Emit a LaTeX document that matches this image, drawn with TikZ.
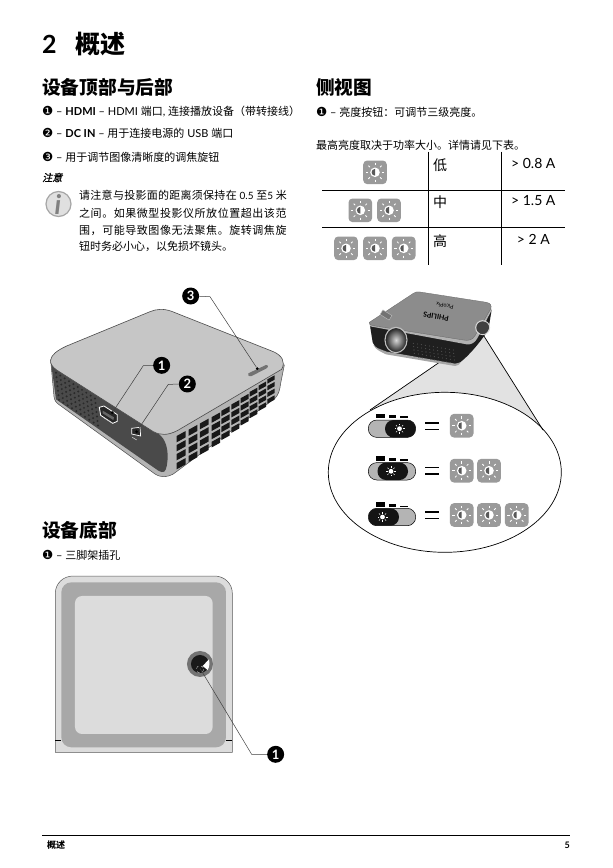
\documentclass[tikz,border=0pt]{standalone}
\usepackage{fontspec}
\setmainfont{Lato}
\newfontfamily\cjk{Noto Sans CJK SC}
\newfontfamily\cjkj[LetterSpace=5]{Noto Sans CJK SC}
\newfontfamily\cjkq[LetterSpace=2.5]{Noto Sans CJK SC}
\newfontfamily\cjkit[FakeSlant=0.25,FakeBold=1.2]{Noto Sans CJK SC}
\newfontfamily\dingb{DejaVu Sans}
\newcommand{\C}[1]{{\cjk #1}}
\newcommand{\fs}[1]{\fontsize{#1}{#1}\selectfont}
\newcommand{\NB}[1]{{\dingb\fs{12.5}#1}}
\definecolor{iconG}{HTML}{9A9A9A}
\definecolor{bodyG}{HTML}{C6C6C6}
\definecolor{sideG}{HTML}{B4B4B4}
\definecolor{darkF}{HTML}{4A4A4A}
\definecolor{ventK}{HTML}{2A2A2A}
\definecolor{plateL}{HTML}{DCDCDC}
\definecolor{plateM}{HTML}{A8A8A8}
\definecolor{wedgeG}{HTML}{E2E2E2}
\definecolor{topG}{HTML}{8C8C8C}
\tikzset{
  txt/.style={anchor=west,inner sep=0pt,font=\fs{11}},
  headtxt/.style={anchor=west,inner sep=0pt,font=\fs{18.7}\bfseries},
  badge/.style={circle,fill=black,text=white,inner sep=0pt,minimum size=17pt,font=\fs{13}\bfseries},
  leader/.style={draw=black!75,line width=0.5pt},
  tip/.style={circle,fill=black,inner sep=0pt,minimum size=3pt},
  tbl/.style={draw=black,line width=0.8pt},
  celltxt/.style={inner sep=0pt,font=\fs{14}},
  pics/sunicon/.style={code={
    \fill[iconG,rounded corners=4pt] (-11.8,-11.8) rectangle (11.8,11.8);
    \fill[white] (0,0) circle (4.8);
    \fill[black!65] (0,-3.4) arc (270:90:3.4) -- cycle;
    \foreach \a in {0,45,...,315}{\draw[white,line width=0.8pt] (\a:7.2) -- (\a:9.4);}
  }},
  pics/minisun/.style={code={
    \fill[white] (0,0) circle (2.4);
    \foreach \a in {0,45,...,315}{\draw[white,line width=0.6pt] (\a:3.4) -- (\a:5);}
  }},
  pics/switchrow/.style n args={3}{code={
    \fill[sideG,draw=black,line width=0.5pt,rounded corners=8.5pt] (368.3,-8.7) rectangle (415.7,8.7);
    \fill[black!92,rounded corners=8.5pt] (#1,-8.7) rectangle ++(30.5,17.4);
    \pic at (#2,0) {minisun};
    \fill[black] (376,-15.2) rectangle (385,-10.5);
    \fill[black] (388.5,-13.5) rectangle (396,-10.5);
    \fill[black] (399.5,-#3-10.5) rectangle (408,-10.5);
  }},
}
\begin{document}
\begin{tikzpicture}[x=1pt,y=-1pt]
\useasboundingbox[fill=white] (0,0) rectangle (613,868);

% ---------- headings
\node[anchor=west,inner sep=0pt,font=\fs{25}\bfseries] (title2) at (42,44) {2};
\node[anchor=west,inner sep=0pt,font=\fs{25}\bfseries] (title) at (75,44) {\C{概述}};
\node[headtxt] (hTop) at (42,87) {\C{设备顶部与后部}};
\node[headtxt] (hSide) at (316,87) {\C{侧视图}};
\node[headtxt] (hBot) at (42,530.5) {\C{设备底部}};

% ---------- left text
\node[txt] (i1) at (42,112) {\NB{❶} – \textbf{HDMI} – HDMI \C{端口}, \C{连接播放设备（带转接线）}};
\node[txt] (i2) at (42,133.5) {\NB{❷} – \textbf{DC IN} – \C{用于连接电源的} USB \C{端口}};
\node[txt] (i3) at (42,157) {\NB{❸} – \C{用于调节图像清晰度的调焦旋钮}};
\node[txt,font=\fs{10}] (note) at (42,177.5) {{\cjkit 注意}};
\node[txt] (n1) at (79,195) {{\cjkq 请注意与投影面的距离须保持在} {\fs{10}0.5} {\cjkq 至}{\fs{10}5} {\cjkq 米}};
\node[txt] (n2) at (79,213) {{\cjkj 之间。如果微型投影仪所放位置超出该范}};
\node[txt] (n3) at (79,230.5) {{\cjkj 围，可能导致图像无法聚焦。旋转调焦旋}};
\node[txt] (n4) at (79,246) {\C{钮时务必小心，以免损坏镜头。}};
\node[circle,draw=black!35,line width=1.2pt,fill=black!12,minimum size=25pt,inner sep=0pt] (info) at (58.5,204) {};
\node[inner sep=0pt,text=black!50,font=\fontsize{27}{27}\selectfont\rmfamily\bfseries\itshape] (infoi) at (58,204) {i};

% ---------- right text
\node[txt] (r1) at (316,112) {\NB{❶} – \C{亮度按钮：可调节三级亮度。}};
\node[txt] (r2) at (316,145) {\C{最高亮度取决于功率大小。详情请见下表。}};
\node[txt] (b1) at (42,555) {\NB{❶} – \C{三脚架插孔}};

% ---------- table
\coordinate (tv1a) at (428.3,151.5); \coordinate (tv1b) at (428.3,265);
\coordinate (tv2a) at (501.7,151.5); \coordinate (tv2b) at (501.7,265);
\coordinate (th1a) at (322,190); \coordinate (th1b) at (565,190);
\coordinate (th2a) at (322,227.3); \coordinate (th2b) at (565,227.3);
\draw[tbl] (tv1a) -- (tv1b); \draw[tbl] (tv2a) -- (tv2b);
\draw[tbl] (th1a) -- (th1b); \draw[tbl] (th2a) -- (th2b);
\pic at (375,172.3) {sunicon};
\pic at (360.3,210.3) {sunicon};
\pic at (389,210.3) {sunicon};
\pic at (346,248.3) {sunicon};
\pic at (375,248.3) {sunicon};
\pic at (403.7,248.3) {sunicon};
\node[celltxt] (tl) at (440,165.5) {\C{低}};
\node[celltxt] (tm) at (440,202) {\C{中}};
\node[celltxt] (th) at (440,241.5) {\C{高}};
\node[celltxt] (ta) at (533.3,163.5) {> 0.8 A};
\node[celltxt] (tb) at (533.3,201) {> 1.5 A};
\node[celltxt] (tc) at (533.3,239.5) {> 2 A};

% ---------- projector, top and rear view
\begin{scope}[shift={(30,280)},x=0.3333pt,y=-0.3333pt]
  \fill[sideG,draw=black!70,line width=0.5pt] (62,240) -- (72,350) .. controls (74,362) and (78,368) .. (90,376)
     -- (375,582) .. controls (395,594) and (410,592) .. (430,582)
     -- (735,355) .. controls (745,345) and (750,330) .. (752,310) -- (763,255) -- cycle;
  \fill[darkF] (64,255) -- (380,458) .. controls (402,470) and (412,495) .. (413,525)
     .. controls (413,550) and (410,568) .. (403,575) .. controls (398,578) and (392,576) .. (385,572)
     -- (78,358) -- cycle;
  \foreach \u in {0,...,9}{\foreach \v in {0,...,6}{
    \fill[ventK] ({78+\u*13+\v*1.5},{278+\u*8.6+\v*13.5}) circle (3.3);}}
  \fill[bodyG,draw=black!70,line width=0.6pt] (62,240) .. controls (64,225) and (80,212) .. (110,198)
     -- (360,95) .. controls (380,87) and (400,85) .. (425,94)
     -- (730,215) .. controls (755,226) and (768,245) .. (755,268)
     -- (442,452) .. controls (412,467) and (392,466) .. (370,455)
     -- (80,270) .. controls (66,260) and (60,250) .. (62,240) -- cycle;
  \foreach \i/\xx in {0/440,1/476,2/510,3/545,4/574,5/604,6/632,7/659,8/686,9/712}{
    \pgfmathsetmacro\t{\i/9}
    \pgfmathsetmacro\w{27-5*\t}
    \pgfmathsetmacro\st{27-7*\t}
    \pgfmathsetmacro\h{19-6*\t}
    \pgfmathsetmacro\yt{468-170*\t}
    \foreach \j in {0,1,2,3}{
      \pgfmathsetmacro\yy{\yt+\j*\st}
      \fill[black!90] (\xx,\yy) -- ++(\w,-0.55*\w) -- ++(0,\h) -- ++(-\w,0.55*\w) -- cycle;
    }
  }
  \draw[white,line width=0.8pt,fill=black!85] (208,382) -- (222,378) -- (262,404) -- (262,424) -- (248,430) -- (212,406) -- cycle;
  \fill[black!60] (218,392) -- (252,412) -- (250,420) -- (218,400) -- cycle;
  \draw[white!80!black,line width=0.6pt] (220,412) -- (245,428);
  \draw[white,line width=0.7pt,fill=black!85] (305,445) -- (330,442) -- (332,468) -- (305,462) -- cycle;
  \draw[white!80!black,line width=0.6pt] (307,472) -- (320,480);
  \fill[black!55] (655,280) -- (708,255) .. controls (716,255) and (716,262) .. (708,266) -- (665,288) .. controls (655,290) and (652,285) .. (655,280) -- cycle;
  \coordinate (t1) at (247,398);
  \coordinate (k1) at (340,257);
  \coordinate (t2) at (320,455);
  \coordinate (k2) at (415,313);
  \coordinate (t3) at (682,266);
  \coordinate (k3) at (540,50);
  \node[tip] (d1) at (t1) {}; \node[tip] (d2) at (t2) {}; \node[tip] (d3) at (t3) {};
  \node[badge] (c1) at (395,256) {1};
  \node[badge] (c2) at (472,312) {2};
  \node[badge] (c3) at (482,48) {3};
  \draw[leader] (c1) -- (k1) -- (d1);
  \draw[leader] (c2) -- (k2) -- (d2);
  \draw[leader] (c3) -- (k3) -- (d3);
\end{scope}

% ---------- callout wedge and ellipse
\coordinate (wtip) at (482,333);
\coordinate (wl) at (370,410);
\coordinate (wr) at (543,430);
\fill[wedgeG] (wtip) -- (wl) -- (445,420) -- (wr) -- cycle;
\fill[white,draw=black,line width=0.7pt] (444.8,472.3) ellipse (116.5 and 80);
\draw[black,line width=0.7pt] (wtip) -- (wl);
\draw[black,line width=0.7pt] (wtip) -- (wr);

% ---------- projector, side view
\begin{scope}[shift={(360,285)},x=0.3333pt,y=-0.3333pt]
  \fill[black!88] (30,122) -- (38,172) .. controls (45,190) and (60,195) .. (75,205)
     -- (285,240) .. controls (300,238) and (345,195) .. (385,135) -- (395,75) -- (320,170) -- cycle;
  \fill[black!35] (40,180) .. controls (48,195) and (62,200) .. (78,208) -- (285,243) .. controls (295,240) and (300,238) .. (302,232) -- (285,236) -- (80,200) .. controls (60,192) and (45,188) .. (40,180) -- cycle;
  \foreach \u in {0,...,10}{\foreach \v in {0,...,4}{
    \fill[black!65] ({160+\u*12+\v*1},{175+\u*2+\v*10}) circle (1.6);}}
  \fill[black!30] (28,112) -- (30,124) -- (320,178) .. controls (335,180) and (345,172) .. (352,160) -- (395,75) -- (392,65) -- (340,150) -- cycle;
  \fill[topG,draw=black!60,line width=0.3pt] (28,112) -- (160,25) .. controls (167,20) and (172,20) .. (180,21)
     -- (380,52) .. controls (392,55) and (396,62) .. (392,72) -- (345,152) .. controls (338,165) and (325,168) .. (310,165)
     -- (40,122) .. controls (30,120) and (26,116) .. (28,112) -- cycle;
  \shade[inner color=black!15,outer color=black!85] (108,165) ellipse (31 and 36);
  \draw[black!25,line width=1.1pt] (108,165) ellipse (33 and 38);
  \fill[black!55,draw=black!25,line width=0.4pt,rotate around={-32:(78,90)}] (62,82) rectangle (94,98);
  \fill[black!75] (368,128) circle (19);
  \draw[white!85!black,line width=0.9pt] (368,128) circle (21);
  \node[inner sep=0pt,rotate=170,font=\fontsize{7}{7}\selectfont\bfseries,text=black] (brand) at (228,94) {PHILIPS};
  \node[inner sep=0pt,rotate=170,font=\fontsize{5.5}{5.5}\selectfont,text=black] (model) at (255,63) {PicoPix};
\end{scope}

% ---------- switches
\pic at (0,428.7) {switchrow={385}{399.5}{1.8}};
\pic at (0,471.3) {switchrow={377.5}{391}{1.8}};
\pic at (0,517) {switchrow={368.5}{382.5}{0.5}};
\foreach \yy in {423,467.5,512}{\draw[black,line width=1.3pt] (425,\yy) -- (439,\yy) (425,\yy+6.5) -- (439,\yy+6.5);}
\pic at (461.7,425.7) {sunicon};
\pic at (461.7,470.7) {sunicon};
\pic at (489,470.7) {sunicon};
\pic at (461.7,515) {sunicon};
\pic at (489,515) {sunicon};
\pic at (516.7,515) {sunicon};

% ---------- underside plate
\begin{scope}[shift={(30,510)},x=0.3333pt,y=-0.3333pt]
  \fill[plateL,draw=black!65,line width=0.5pt] (76,727) -- (76,250) .. controls (76,220) and (100,198) .. (130,198) -- (553,198) .. controls (583,198) and (607,220) .. (607,250) -- (607,727) -- cycle;
  \fill[plateM,rounded corners=10pt] (94,217) rectangle (588,712);
  \fill[plateL,rounded corners=7pt] (135,258) rectangle (548,672);
  \draw[black,line width=0.6pt] (76,691) -- (94,691) (588,691) -- (607,691);
  \fill[black!55] (510,462) circle (39);
  \fill[black!90] (510,462) circle (27);
  \fill[white] (537,448) -- (518,468) -- (533,480) .. controls (539,470) and (539,460) .. (537,448) -- cycle;
  \draw[white,line width=0.3pt,dashed] (510,478) circle (11);
  \coordinate (tb1) at (510,475);
  \coordinate (kb1) at (665,733);
  \node[badge] (cb1) at (737,733) {1};
  \draw[leader] (cb1) -- (kb1) -- (tb1);
\end{scope}

% ---------- footer
\coordinate (fa) at (42,835.5); \coordinate (fb) at (570,835.5);
\draw[black,line width=1pt] (fa) -- (fb);
\node[txt,font=\fs{9}\bfseries] (foot) at (47,845.5) {\C{概述}};
\node[anchor=east,inner sep=0pt,font=\fs{9}\bfseries] (pg) at (570,845.5) {5};
\end{tikzpicture}
\end{document}
